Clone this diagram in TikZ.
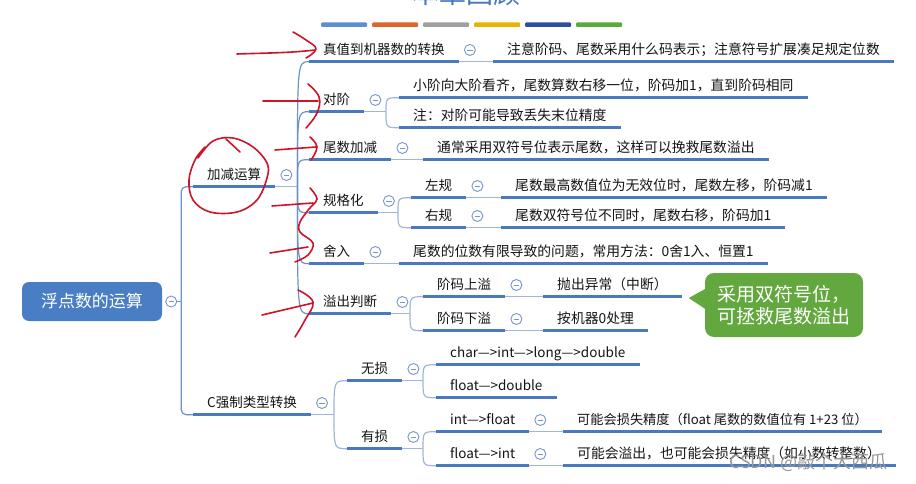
\documentclass[tikz,border=0pt]{standalone}
\usepackage{fontspec}
\setmainfont{Noto Sans CJK SC}
\usetikzlibrary{calc}
\definecolor{ulblue}{RGB}{74,122,190}
\definecolor{thinblue}{RGB}{160,182,214}
\definecolor{trunkblue}{RGB}{110,145,200}
\definecolor{collblue}{RGB}{120,150,200}
\definecolor{rootblue}{RGB}{74,126,196}
\definecolor{txt}{RGB}{20,20,20}
\definecolor{pen}{RGB}{205,20,40}
\definecolor{callgreen}{RGB}{98,168,62}
\definecolor{titleblue}{RGB}{70,120,190}
\definecolor{bara}{RGB}{91,143,208}
\definecolor{barb}{RGB}{217,102,43}
\definecolor{barc}{RGB}{160,160,160}
\definecolor{bard}{RGB}{232,180,0}
\definecolor{bare}{RGB}{46,79,160}
\definecolor{barf}{RGB}{90,170,58}
\begin{document}
\begin{tikzpicture}[x=1pt,y=-1pt,
  tp/.style={anchor=west, inner xsep=14pt, inner ysep=0pt, minimum height=23pt,
    text height=11.5pt, text depth=2.5pt, text=txt, font=\fontsize{13.5}{16}\selectfont},
  ds/.style={tp, font=\fontsize{13.8}{16}\selectfont},
  ul/.style={draw=ulblue, line width=3pt},
  thinc/.style={draw=thinblue, line width=1.2pt},
  trunkc/.style={draw=trunkblue, line width=1.2pt},
  coll/.style={circle, draw=collblue, line width=0.9pt, fill=white, minimum size=11pt, inner sep=0pt,
    path picture={\draw[collblue, line width=0.9pt] ([xshift=-2.6pt]path picture bounding box.center) -- ([xshift=2.6pt]path picture bounding box.center);}},
  redpen/.style={draw=pen, line width=1.6pt, line cap=round, line join=round},
  rootbox/.style={fill=rootblue, rounded corners=7pt, minimum width=140pt, minimum height=39pt,
    inner sep=0pt, text=white, font=\fontsize{17}{17}\selectfont},
  callbox/.style={fill=callgreen, rounded corners=9pt, minimum width=158pt, minimum height=64pt,
    inner sep=0pt, text=white, align=left, font=\fontsize{19}{22}\selectfont}
]
\useasboundingbox (0,0) rectangle (916,484);
\fill[white] (0,0) rectangle (916,484);

% title (cut off at the top) and colour bars
\node[anchor=base, text=titleblue, font=\fontsize{27}{27}\selectfont, inner sep=0pt] (title) at (466,4) {本章回顾};
\foreach \x/\c in {321/bara,372/barb,423/barc,474/bard,525/bare,576/barf}
  \fill[\c, rounded corners=1pt] (\x,22.5) rectangle ++(46,4.5);

% root
\node[rootbox] (root) at (92,301.5) {浮点数的运算};

% topics
\node[tp] (jjys) at (193,175) {加减运算};
\node[tp] (cqz) at (193,403) {C强制类型转换};
\node[tp] (zz) at (309,50) {真值到机器数的转换};
\node[ds] (zz1) at (493,50) {注意阶码、尾数采用什么码表示；注意符号扩展凑足规定位数};
\node[tp] (dj) at (309,100) {对阶};
\node[ds] (dj1) at (399,86) {小阶向大阶看齐，尾数算数右移一位，阶码加1，直到阶码相同};
\node[ds] (dj2) at (399,116) {注：对阶可能导致丢失末位精度};
\node[tp] (wsjj) at (309,148) {尾数加减};
\node[ds] (wsjj1) at (423,148) {通常采用双符号位表示尾数，这样可以挽救尾数溢出};
\node[tp] (ggh) at (309,201) {规格化};
\node[tp] (zg) at (411,186) {左规};
\node[ds] (zg1) at (501,186) {尾数最高数值位为无效位时，尾数左移，阶码减1};
\node[tp] (yg) at (411,216) {右规};
\node[ds] (yg1) at (501,216) {尾数双符号位不同时，尾数右移，阶码加1};
\node[tp] (sr) at (309,252) {舍入};
\node[ds] (sr1) at (399,252) {尾数的位数有限导致的问题，常用方法：0舍1入、恒置1};
\node[tp] (ycpd) at (309,302) {溢出判断};
\node[tp] (jmsy) at (423,285) {阶码上溢};
\node[ds] (jmsy1) at (543,285) {抛出异常（中断）};
\node[tp] (jmxy) at (423,319) {阶码下溢};
\node[ds] (jmxy1) at (543,319) {按机器0处理};
\node[tp] (wusun) at (347,369) {无损};
\node[tp] (yousun) at (347,437) {有损};
\node[tp] (ch) at (436,353) {char—>int—>long—>double};
\node[tp] (fd) at (436,386) {float—>double};
\node[tp] (fi) at (436,420) {int—>float};
\node[tp] (fint) at (436,454) {float—>int};
\node[ds, font=\fontsize{13.2}{16}\selectfont] (fi1) at (563,420) {可能会损失精度（float 尾数的数值位有 1+23 位）};
\node[ds, text width=305pt, align=left] (fint1) at (563,454) {可能会溢出，也可能会损失精度（如小数转整数）};

% collapse buttons
\node[coll] (c-root) at ([xshift=9pt]root.east) {};
\foreach \n in {jjys,cqz,zz,dj,wsjj,ggh,zg,yg,sr,ycpd,jmsy,jmxy,wusun,yousun,fi,fint}
  \node[coll] (c-\n) at ([xshift=11pt]\n.east) {};

% root trunk
\path (c-root.east) ++(4,0) coordinate (rt);
\draw[trunkc] (c-root.east) -- (rt);
\draw[trunkc, rounded corners=5pt] (rt) |- (jjys.south west);
\draw[trunkc, rounded corners=5pt] (rt) |- (cqz.south west);

% 加减运算 branches
\path (jjys.south east) ++(22,0) coordinate (jb);
\draw[thinc] (jjys.south east) -- (jb);
\foreach \n in {zz,dj,wsjj,ggh,sr,ycpd}
  \draw[trunkc] (jb) .. controls (jb |- \n.south west) .. (\n.south west);

% single links
\foreach \a/\b in {zz/zz1,wsjj/wsjj1,zg/zg1,yg/yg1,sr/sr1,jmsy/jmsy1,jmxy/jmxy1,fi/fi1,fint/fint1}
  \draw[thinc] (\a.south east) -- (\b.south west);

% brackets
\foreach \p/\ca/\cb in {dj/dj1/dj2,ggh/zg/yg,ycpd/jmsy/jmxy,cqz/wusun/yousun,wusun/ch/fd,yousun/fi/fint}{
  \path (\p.south east -| \ca.south west) ++(-13,0) coordinate (b-\p);
  \draw[thinc] (\p.south east) -- (b-\p);
  \draw[thinc] (b-\p) .. controls (b-\p |- \ca.south west) .. (\ca.south west);
  \draw[thinc] (b-\p) .. controls (b-\p |- \cb.south west) .. (\cb.south west);
}

% underlines
\foreach \n in {jjys,cqz,zz,zz1,dj,dj1,dj2,wsjj,wsjj1,ggh,zg,zg1,yg,yg1,sr,sr1,ycpd,jmsy,jmsy1,jmxy,jmxy1,wusun,yousun,ch,fd,fi,fi1,fint,fint1}
  \draw[ul] (\n.south west) -- (\n.south east);

% callout
\node[callbox] (cb) at (784,305) {采用双符号位，\\可拯救尾数溢出};
\fill[callgreen] (cb.west) ++(2,-17) -- ++(-18,10) -- ++(18,12) -- cycle;

% red hand annotations
\draw[redpen] (237,54) .. controls (265,53) and (290,53) .. (315,50);
\draw[redpen] plot[smooth, tension=0.7] coordinates {(293,32) (306,40) (316,49) (306,58)};
\draw[redpen] (263,101) -- (318,101);
\draw[redpen] plot[smooth, tension=0.7] coordinates {(308,84) (319,97) (317,113) (306,128)};
\draw[redpen] (275,150) -- (316,147);
\draw[redpen] plot[smooth, tension=0.7] coordinates {(310,137) (317,147) (311,160)};
\draw[redpen] (272,206) -- (313,203);
\draw[redpen] plot[smooth, tension=0.6] coordinates {(310,188) (317,199) (309,209) (300,222) (300,232) (313,243) (308,255) (295,262)};
\draw[redpen] (270,253) -- (308,247);
\draw[redpen] (262,315) -- (313,303);
\draw[redpen] plot[smooth, tension=0.7] coordinates {(298,290) (313,302) (305,320) (295,337)};
\draw[redpen] plot[smooth, tension=0.6] coordinates {(198,158) (213,141) (233,138) (253,147) (267,163) (267,178) (257,200) (237,212) (210,212) (193,200) (189,180) (195,160) (205,147)};
\draw[redpen] (226,139) -- (240,152);

% watermark
\node[anchor=west, text=black!40, font=\fontsize{18}{18}\selectfont, inner sep=0pt] (wm) at (729,462) {CSDN @敲个大西瓜};
\end{tikzpicture}
\end{document}
